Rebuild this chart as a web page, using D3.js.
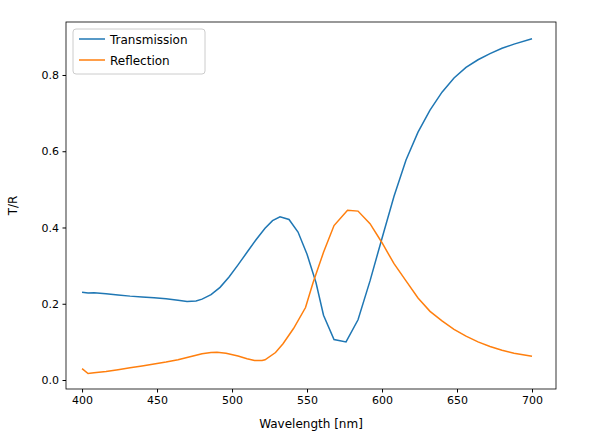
<!DOCTYPE html><html><head><script src="https://cdn.jsdelivr.net/npm/d3@7"></script>
<style>body{margin:0;background:#fff}text{font-family:"DejaVu Sans",sans-serif}</style></head><body>
<svg id="c" width="589" height="436"></svg>
<script>
const wl = [400,404,408,416,424,432,440,448,456,464,470,476,480,486,492,498,504,510,516,522,527,532,538,544,550,556,561,568,576,584,592,600,608,616,624,632,640,648,656,664,672,680,688,700];
const trans = [0.23,0.228,0.229,0.226,0.223,0.220,0.218,0.216,0.213,0.209,0.206,0.207,0.212,0.224,0.243,0.270,0.302,0.335,0.368,0.398,0.418,0.428,0.421,0.388,0.33,0.255,0.17,0.106,0.100,0.158,0.260,0.372,0.482,0.577,0.650,0.708,0.755,0.792,0.820,0.840,0.856,0.870,0.881,0.895];
const wlR = [400,404,408,416,424,432,440,448,456,464,472,480,486,490,496,504,510,515,520,522,529,534,541,549,554,561,568,577,584,592,600,608,616,624,632,640,648,656,664,672,680,688,700];
const refl = [0.03,0.017,0.019,0.022,0.027,0.032,0.037,0.042,0.047,0.053,0.061,0.069,0.072,0.073,0.070,0.063,0.056,0.051,0.051,0.053,0.072,0.095,0.135,0.19,0.255,0.335,0.405,0.445,0.443,0.41,0.36,0.305,0.26,0.215,0.18,0.155,0.133,0.115,0.100,0.088,0.078,0.070,0.062];
const xTicks=[400,450,500,550,600,650,700], yTicks=[0,0.2,0.4,0.6,0.8];
const L=66,R=556,T=22,B=389;
const x=d3.scaleLinear().domain([389.3,716]).range([L,R]);
const y=d3.scaleLinear().domain([-0.0236,0.939]).range([B,T]);
const svg=d3.select("#c");
const ax=svg.append("g").attr("transform",`translate(0,${B})`).call(d3.axisBottom(x).tickValues(xTicks).tickSize(3.5).tickPadding(3.5).tickFormat(d3.format("d")));
const ay=svg.append("g").attr("transform",`translate(${L},0)`).call(d3.axisLeft(y).tickValues(yTicks).tickSize(3.5).tickPadding(3.5).tickFormat(d3.format(".1f")));
[ax,ay].forEach(a=>{a.selectAll("text").attr("font-size",11).attr("fill","#000");a.select(".domain").remove();a.selectAll("line").attr("stroke","#000");});
svg.append("rect").attr("x",L).attr("y",T).attr("width",R-L).attr("height",B-T).attr("fill","none").attr("stroke","#000").attr("stroke-width",0.8);
const line=d3.line().x(d=>x(d[0])).y(d=>y(d[1]));
svg.append("path").attr("d",line(wl.map((w,i)=>[w,trans[i]]))).attr("fill","none").attr("stroke","#1f77b4").attr("stroke-width",1.5);
svg.append("path").attr("d",line(wlR.map((w,i)=>[w,refl[i]]))).attr("fill","none").attr("stroke","#ff7f0e").attr("stroke-width",1.5);
svg.append("text").attr("x",(L+R)/2).attr("y",428).attr("text-anchor","middle").attr("font-size",12).text("Wavelength [nm]");
svg.append("text").attr("transform",`translate(17,${(T+B)/2}) rotate(-90)`).attr("text-anchor","middle").attr("font-size",12).text("T/R");
const lg=svg.append("g").attr("transform","translate(73,29)");
lg.append("rect").attr("width",132).attr("height",45).attr("rx",3).attr("fill","#fff").attr("stroke","#ccc");
[["Transmission","#1f77b4"],["Reflection","#ff7f0e"]].forEach((s,i)=>{
 lg.append("line").attr("x1",6).attr("x2",32).attr("y1",10+i*21).attr("y2",10+i*21).attr("stroke",s[1]).attr("stroke-width",1.5);
 lg.append("text").attr("x",37).attr("y",14.5+i*21).attr("font-size",12).text(s[0]);
});
</script></body></html>
